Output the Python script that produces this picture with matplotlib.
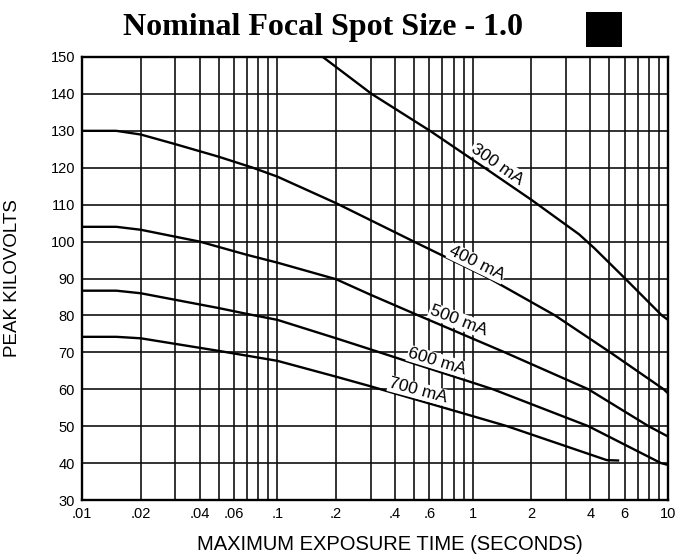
import matplotlib
matplotlib.use("Agg")
import matplotlib.pyplot as plt
import numpy as np

# ---- data ----
t_300 = [0.171, 0.304, 0.605, 1.15, 2.0, 2.8, 3.5, 4.2, 6.03, 9.3, 10.0]
kv_300 = [150, 140, 130, 120, 111.3, 105.7, 102.0, 98.2, 90, 80, 78.8]

t_400 = [0.01, 0.015, 0.02, 0.03, 0.05, 0.075, 0.1, 0.2, 0.3, 0.5, 1.22, 2.64, 5.06, 9.5, 10.0]
kv_400 = [130, 130, 129, 126.4, 123, 120, 117.6, 110.4, 105.8, 100, 90, 80, 70, 60, 58.9]

t_500 = [0.01, 0.015, 0.02, 0.04, 0.07, 0.1, 0.2, 0.3, 0.527, 1.46, 3.91, 7.95, 10.0]
kv_500 = [104, 104, 103.2, 100, 96.4, 94.3, 89.8, 85.6, 80, 70, 60, 50, 47.2]

t_600 = [0.01, 0.015, 0.02, 0.05, 0.07, 0.1, 0.2, 0.3, 1.27, 3.91, 9.2, 10.0]
kv_600 = [86.7, 86.7, 86.0, 82.0, 80.4, 78.8, 73.8, 70.8, 60, 50, 40, 39.5]

t_700 = [0.01, 0.015, 0.02, 0.05, 0.1, 0.2, 0.3, 1.5, 4.86, 5.55]
kv_700 = [74.2, 74.2, 73.8, 70.4, 67.7, 63.4, 60.8, 50, 40.8, 40.7]

curve_labels = ["300 mA", "400 mA", "500 mA", "600 mA", "700 mA"]
label_t = [1.34, 1.05, 0.845, 0.659, 0.527]
label_kv = [121.0, 94.1, 78.6, 67.5, 59.6]
label_rot = [-35, -26, -21, -17, -15]

x_ticks = [0.01, 0.02, 0.04, 0.06, 0.1, 0.2, 0.4, 0.6, 1, 2, 4, 6, 10]
x_ticklabels = [".01", ".02", ".04", ".06", ".1", ".2", ".4", ".6", "1", "2", "4", "6", "10"]
y_ticks = list(range(30, 151, 10))

title = "Nominal Focal Spot Size - 1.0"
xlabel = "MAXIMUM EXPOSURE TIME (SECONDS)"
ylabel = "PEAK KILOVOLTS"

# ---- figure ----
fig = plt.figure(figsize=(6.88, 5.54), dpi=100)
ax = fig.add_axes([82/688, 1-500/554, (668-82)/688, (500-57)/554])
ax.set_xscale("log")
ax.set_xlim(0.01, 10)
ax.set_ylim(30, 150)

# grid lines
grid_x = [m * 10.0**e for e in (-2, -1, 0) for m in range(1, 10)] + [10]
for gx in grid_x:
    ax.axvline(gx, color="#111111", lw=1.2, zorder=1)
for gy in y_ticks:
    ax.axhline(gy, color="#111111", lw=1.2, zorder=1)

for t, kv in [(t_300, kv_300), (t_400, kv_400), (t_500, kv_500), (t_600, kv_600), (t_700, kv_700)]:
    ax.plot(t, kv, color="black", lw=1.7, zorder=3, solid_joinstyle="round")

for lab, lt, lk, rot in zip(curve_labels, label_t, label_kv, label_rot):
    ax.text(lt, lk, lab, rotation=rot, ha="center", va="center", rotation_mode="anchor",
            fontsize=12.5, family="Liberation Sans", zorder=4,
            bbox=dict(boxstyle="square,pad=0.05", fc="white", ec="none"))

ax.set_xticks(x_ticks)
ax.set_xticklabels(x_ticklabels)
ax.xaxis.set_minor_locator(matplotlib.ticker.NullLocator())
ax.set_yticks(y_ticks)
ax.tick_params(length=0, pad=5, labelsize=10.5)
for lbl in ax.get_xticklabels() + ax.get_yticklabels():
    lbl.set_family("Liberation Sans")
for s in ax.spines.values():
    s.set_linewidth(1.7)
    s.set_zorder(5)

fig.text(323/688, 1-27/554, title, ha="center", va="center", fontsize=23,
         fontweight="bold", family="Liberation Serif")
fig.patches.append(matplotlib.patches.Rectangle((586/688, 1-47/554), 36/688, 35/554,
                                                transform=fig.transFigure, fc="black", ec="none"))
fig.text(390/688, 1-545/554, xlabel, ha="center", va="center", fontsize=14.5,
         family="Liberation Sans")
fig.text(13/688, 1-278/554, ylabel, ha="center", va="center", rotation=90, fontsize=13.5,
         family="Liberation Sans")

fig.savefig("out.png", dpi=100)
